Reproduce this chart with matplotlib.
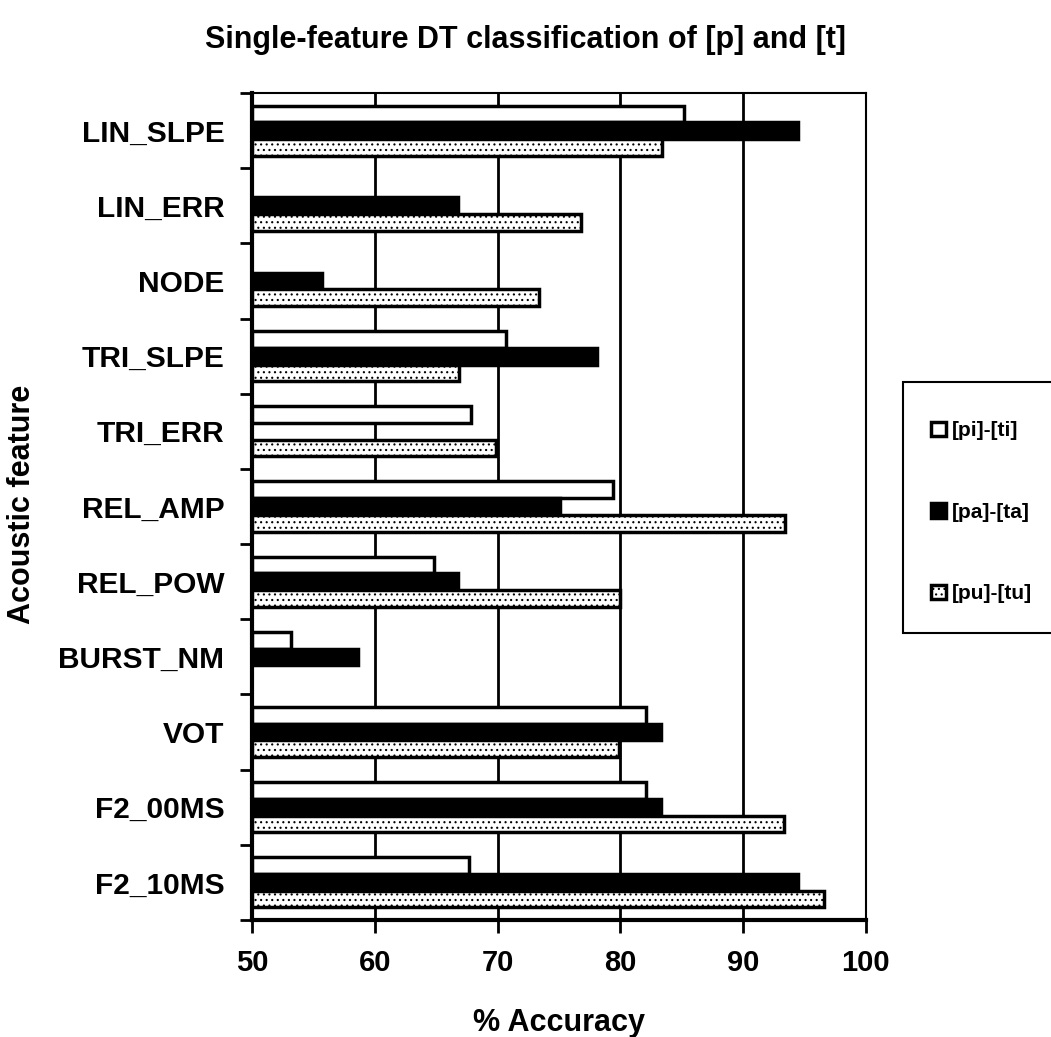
import numpy as np
import matplotlib
matplotlib.use("Agg")
import matplotlib.pyplot as plt
from matplotlib.patches import Rectangle

features = ["LIN_SLPE", "LIN_ERR", "NODE", "TRI_SLPE", "TRI_ERR", "REL_AMP",
            "REL_POW", "BURST_NM", "VOT", "F2_00MS", "F2_10MS"]
series_names = ["[pi]-[ti]", "[pa]-[ta]", "[pu]-[tu]"]
pi_ti = [85.2, np.nan, np.nan, 70.7, 67.8, 79.4, 64.8, 53.2, 82.1, 82.1, 67.7]
pa_ta = [94.5, 66.8, 55.7, 78.1, np.nan, 75.1, 66.8, 58.6, 83.3, 83.3, 94.5]
pu_tu = [83.4, 76.8, 73.4, 66.9, 69.9, 93.4, 80.0, np.nan, 79.9, 93.3, 96.6]
xticks = [50, 60, 70, 80, 90, 100]

plt.rcParams['font.family'] = ['Liberation Sans', 'DejaVu Sans']
plt.rcParams['hatch.linewidth'] = 0.8

fig = plt.figure(figsize=(10.51, 10.37), dpi=100)
ax = fig.add_axes([0.2398, 0.1128, 0.584, 0.7975])

n = len(features)
base = 50
h = 1.0 / 4.5
y = np.arange(n)
styles = [dict(facecolor='white', hatch=None),
          dict(facecolor='black', hatch=None),
          dict(facecolor='white', hatch='...')]
handles = []
for k, vals in enumerate([pi_ti, pa_ta, pu_tu]):
    v = np.array(vals, dtype=float)
    ypos = y + (k - 1) * h
    bars = ax.barh(ypos, v - base, left=base, height=h, edgecolor='black',
                   linewidth=2.5, zorder=3, label=series_names[k], **styles[k])
    handles.append(bars)

ax.set_xlim(50, 100)
ax.set_ylim(n - 0.5, -0.5)
ax.set_xticks(xticks)
ax.set_xticklabels([str(t) for t in xticks], fontsize=21, fontweight='bold')
ax.set_yticks(y)
ax.set_yticklabels(features, fontsize=21.5, fontweight='bold')
ax.tick_params(axis='y', which='major', length=0, pad=20)
ax.set_yticks(np.arange(-0.5, n, 1.0), minor=True)
ax.tick_params(axis='y', which='minor', length=9, width=2, direction='out')
ax.tick_params(axis='x', length=9, width=2, direction='out', pad=12)
ax.grid(axis='x', color='black', linewidth=2, zorder=0)
for s in ['left', 'bottom']:
    ax.spines[s].set_linewidth(3)
for s in ['top', 'right']:
    ax.spines[s].set_linewidth(1.5)

ax.set_xlabel("% Accuracy", fontsize=22, fontweight='heavy', labelpad=22)
fig.text(0.021, 0.514, "Acoustic feature", rotation=90, fontsize=22,
         fontweight='heavy', ha='center', va='center')
fig.text(0.5, 0.961, "Single-feature DT classification of [p] and [t]",
         fontsize=22, fontweight='heavy', ha='center', va='center')

# legend frame
fig.patches.append(Rectangle((903 / 1051, 1 - 633 / 1037), 0.2, (633 - 382) / 1037,
                             transform=fig.transFigure, facecolor='white',
                             edgecolor='black', linewidth=1.5, zorder=1))
leg = fig.legend(handles=handles, labels=series_names, loc='center left',
                 bbox_to_anchor=(0.876, 0.506), frameon=False,
                 fontsize=15, handlelength=0.7, handleheight=0.7,
                 handletextpad=0.3, labelspacing=3.0, borderpad=0)
for t in leg.get_texts():
    t.set_fontweight('bold')

fig.savefig("out.png", dpi=100)
